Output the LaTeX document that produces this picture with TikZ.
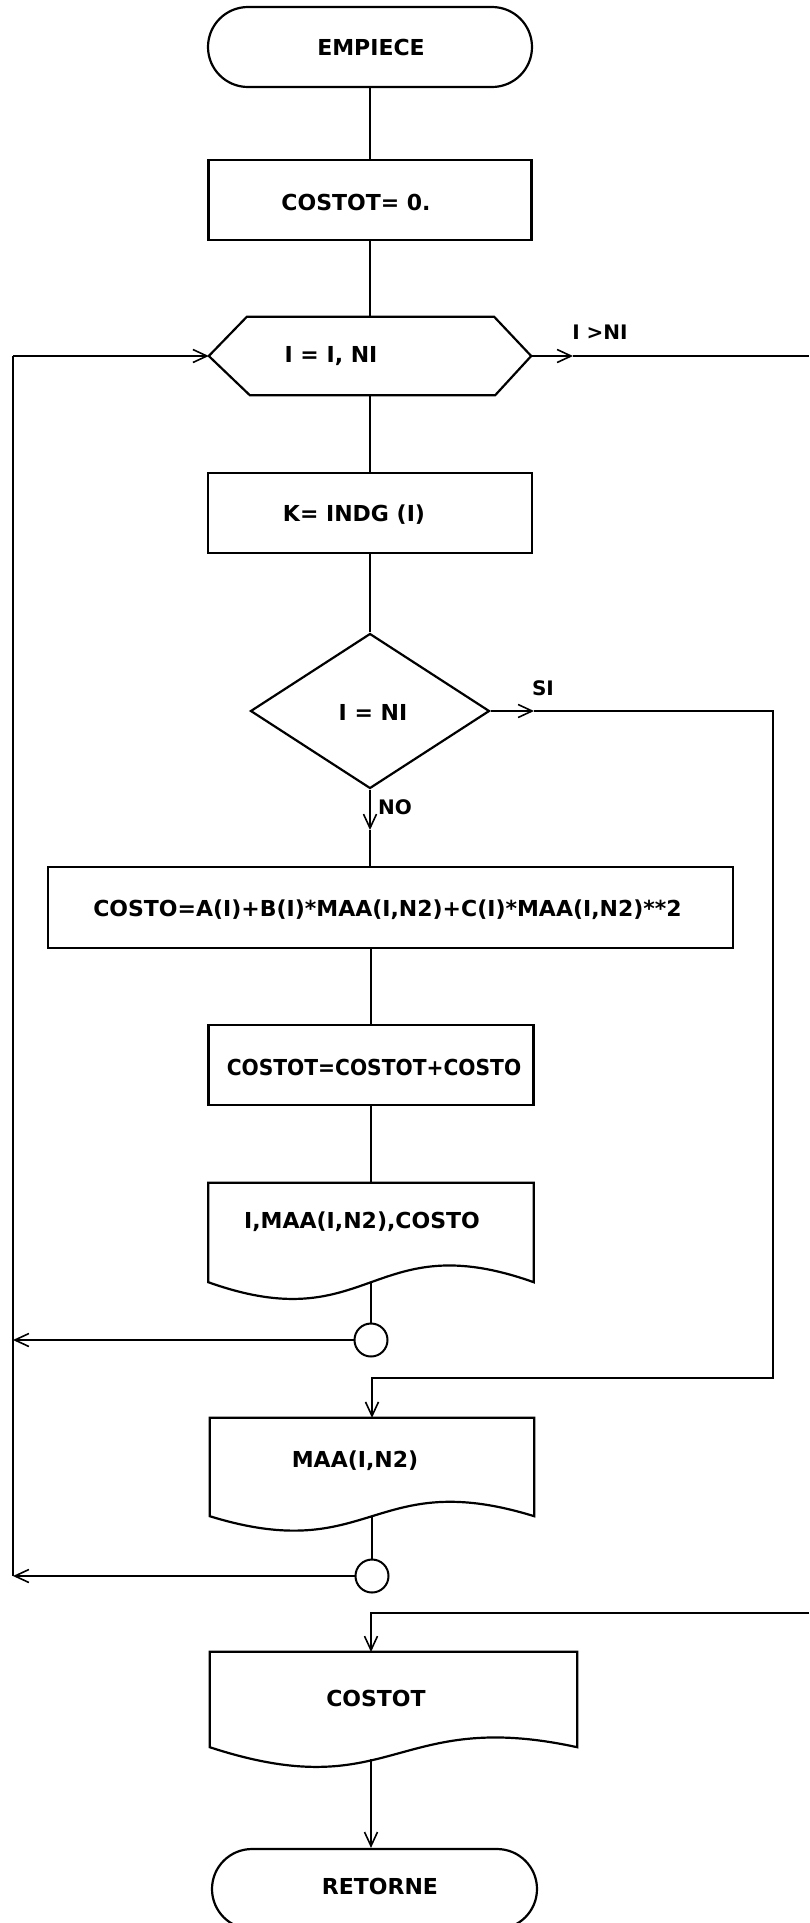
\documentclass[tikz,border=0pt]{standalone}
\usepackage{fontspec}
\setmainfont{DejaVu Sans}
\usetikzlibrary{arrows.meta,shapes.geometric,calc}
\begin{document}
\begin{tikzpicture}[x=1pt,y=-1pt,
  ln/.style={line width=2pt},
  arr/.style={line width=2pt,-{Straight Barb[length=14pt,width=13pt,line width=1.6pt]}},
  box/.style={draw,line width=2.2pt,rectangle,inner sep=0pt},
  term/.style={box,rounded corners=40pt},
  phantom/.style={rectangle,inner sep=0pt,draw=none},
  txt/.style={font=\bfseries\fontsize{22}{24}\selectfont,inner sep=0pt},
  lbl/.style={font=\bfseries\fontsize{20}{22}\selectfont,inner sep=0pt},
  conn/.style={draw,circle,line width=2pt,minimum size=33pt,inner sep=0pt}
]
\useasboundingbox (0,0) rectangle (809,1923);

% --- nodes ---
\node[term,minimum width=324pt,minimum height=80pt] (start) at (370,47) {};
\node[txt] (tstart) at (371,47) {EMPIECE};

\node[box,minimum width=323pt,minimum height=80pt] (c0) at (370,200) {};
\node[txt] (tc0) at (356,202) {COSTOT= 0.};

\node[phantom,minimum width=322pt,minimum height=78pt] (hex) at (370,356) {};
\draw[line width=2.2pt] (hex.west) -- ([xshift=38pt]hex.north west) -- ([xshift=-37pt]hex.north east)
  -- (hex.east) -- ([xshift=-36pt]hex.south east) -- ([xshift=41pt]hex.south west) -- cycle;
\node[txt] (thex) at (331,356) {I = I, NI};

\node[box,minimum width=324pt,minimum height=80pt] (k) at (370,513) {};
\node[txt] (tk) at (354,515) {K= INDG (I)};

\node[draw,diamond,line width=2.2pt,aspect=1.54,minimum width=239pt,minimum height=155pt,inner sep=0pt] (dia) at (370,711) {};
\node[txt] (tdia) at (373,712) {I = NI};

\node[box,minimum width=685pt,minimum height=81pt] (wide) at (390.5,907.5) {};
\node[txt] (twide) at (387.5,910) {COSTO=A(I)+B(I)*MAA(I,N2)+C(I)*MAA(I,N2)**2};

\node[box,minimum width=325pt,minimum height=80pt] (cbox) at (371,1065) {};
\node[txt] (tcbox) at (374,1067) {\scalebox{0.92}[1]{COSTOT=COSTOT+COSTO}};

% document 1
\node[phantom,minimum width=325pt,minimum height=99pt] (doc1) at (371,1232.5) {};
\draw[line width=2.2pt] (doc1.north west) -- (doc1.south west)
  .. controls ([xshift=162.5pt,yshift=-58pt]doc1.south west) and ([xshift=-162.5pt,yshift=58pt]doc1.south east) ..
  (doc1.south east) -- (doc1.north east) -- cycle;
\node[txt] (tdoc1) at (362,1222) {I,MAA(I,N2),COSTO};

\node[conn] (circ1) at (371,1340) {};

% document 2
\node[phantom,minimum width=324pt,minimum height=98pt] (doc2) at (372,1467) {};
\draw[line width=2.2pt] (doc2.north west) -- (doc2.south west)
  .. controls ([xshift=162pt,yshift=-50pt]doc2.south west) and ([xshift=-162pt,yshift=50pt]doc2.south east) ..
  (doc2.south east) -- (doc2.north east) -- cycle;
\node[txt] (tdoc2) at (355,1461) {MAA(I,N2)};

\node[conn] (circ2) at (372,1576) {};

% document 3
\node[phantom,minimum width=367pt,minimum height=95pt] (doc3) at (393.5,1699.5) {};
\draw[line width=2.2pt] (doc3.north west) -- (doc3.south west)
  .. controls ([xshift=183.5pt,yshift=-60pt]doc3.south west) and ([xshift=-183.5pt,yshift=40pt]doc3.south east) ..
  (doc3.south east) -- (doc3.north east) -- cycle;
\node[txt] (tdoc3) at (376,1698) {COSTOT};

\node[term,minimum width=325pt,minimum height=80pt] (ret) at (374.5,1889) {};
\node[txt] (tret) at (380,1886) {RETORNE};

% --- labels ---
\node[lbl] (lgt) at (600,332) {I >NI};
\node[lbl] (lsi) at (543,688) {SI};
\node[lbl] (lno) at (395,807) {NO};

% --- coordinates ---
\coordinate (ltop) at (13,356);
\coordinate (gttip) at (573,356);
\coordinate (exit) at (809,356);
\coordinate (sitip) at (534,711);
\coordinate (rloop) at (773,1378);
\coordinate (notip) at (370,830);
\coordinate (entry) at (809,1613);
\coordinate (d3in) at (371,1652);
\coordinate (d3out) at (371,1759);

% --- connectors ---
\draw[ln] (start.south) -- (c0.north);
\draw[ln] (c0.south) -- (hex.north);
\draw[ln] (hex.south) -- (k.north);
\draw[ln] (k.south) -- (dia.north);
\draw[arr] (dia.south) -- (notip);
\draw[ln] (notip) -- (notip |- wide.north);
\draw[ln] (wide.south -| cbox.north) -- (cbox.north);
\draw[ln] (cbox.south) -- (doc1.north);
\draw[ln] (doc1.south) -- (circ1.north);
\draw[ln] (doc2.south) -- (circ2.north);

\draw[arr] (dia.east) -- (sitip);
\draw[arr] (sitip) -| (rloop) -| (doc2.north);

\draw[arr] (hex.east) -- (gttip);
\draw[ln] (gttip) -- (exit);

\draw[arr] (circ1.west) -- (circ1.west -| ltop);
\draw[arr] (circ2.west) -- (circ2.west -| ltop);
\draw[ln] (circ2.west -| ltop) -- (ltop);
\draw[arr] (ltop) -- (hex.west);

\draw[arr] (entry) -| (d3in);
\draw[arr] (d3out) -- (d3out |- ret.north);
\end{tikzpicture}
\end{document}
